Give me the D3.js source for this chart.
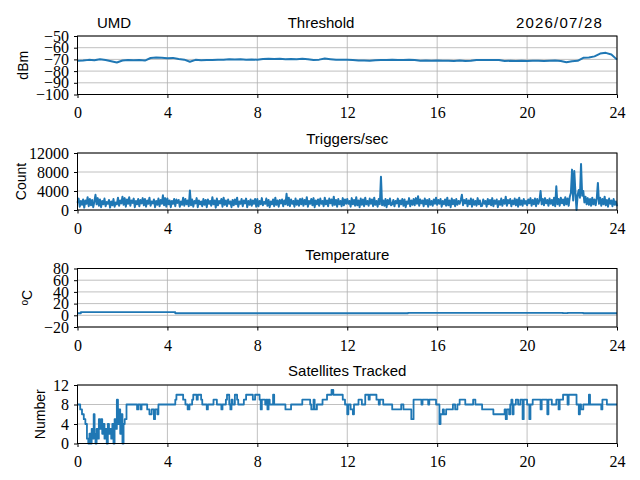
<!DOCTYPE html>
<html>
<head>
<meta charset="utf-8">
<script src="https://cdn.jsdelivr.net/npm/d3@7"></script>
<style>
  body { margin: 0; background: #fff; }
  .tick text { font-family: "Liberation Serif", serif; font-size: 16px; fill: #000; }
</style>
</head>
<body>
<div id="chart"></div>
<script>
let width = 640;
let height = 480;
let xLeft = 77.5;
let xRight = 617;

const hourTicks = [0, 4, 8, 12, 16, 20, 24];

// Threshold (dBm), one reading every 15 minutes
const thresholdStep = 0.25;
const threshold = [
  -71.2, -71.0, -70.4, -70.8,
  -69.8, -70.6, -71.5, -72.6,
  -71.0, -70.5, -70.8, -70.6,
  -71.0, -68.8, -68.3, -68.6,
  -69.0, -68.7, -69.6, -70.2,
  -72.0, -70.4, -70.8, -70.6,
  -70.5, -70.2, -70.4, -69.9,
  -70.1, -69.8, -70.3, -70.0,
  -70.3, -69.6, -69.4, -69.7,
  -69.5, -69.9, -69.6, -69.8,
  -69.4, -69.8, -70.5, -70.2,
  -69.3, -69.8, -70.2, -70.4,
  -70.3, -70.6, -70.9, -71.0,
  -71.1, -70.7, -70.5, -70.6,
  -70.4, -70.6, -70.5, -70.3,
  -70.6, -71.1, -71.0, -71.2,
  -71.0, -71.2, -71.1, -71.4,
  -71.0, -71.3, -71.2, -70.6,
  -70.6, -70.5, -70.6, -70.5,
  -71.4, -71.2, -71.3, -71.2,
  -71.3, -71.2, -71.1, -71.3,
  -71.2, -71.0, -71.4, -72.5,
  -71.5, -71.2, -68.6, -68.4,
  -67.4, -65.0, -64.4, -65.8,
  -70.2
];
const thresholdTicks = [-100, -90, -80, -70, -60, -50];

// Triggers per second, one reading every 3 minutes
const triggerStep = 0.05;
const triggers = [
  1500, 2400, 700, 1900, 1100, 2200, 500, 2000, 1300, 2700, 800, 2300, 1000, 2100, 600, 1800, 3200, 1200, 2500, 900,
  2200, 600, 1900, 1200, 2400, 800, 1700, 1300, 2100, 500, 1800, 1000, 2300, 700, 1600, 1200, 2600, 900, 2000, 1400,
  2800, 1100, 2500, 700, 2200, 1300, 2700, 900, 2000, 1500, 2400, 600, 1900, 1200, 2300, 800, 2100, 1400, 2500, 1000,
  2300, 700, 2000, 1300, 2600, 900, 1800, 1400, 2200, 600, 1900, 1100, 2400, 800, 2100, 1300, 3100, 1000, 2500, 700,
  2400, 1200, 2000, 600, 1900, 1300, 2300, 800, 2200, 1500, 2100, 700, 1800, 1100, 2600, 900, 2300, 1200, 2000, 800,
  4100, 1000, 2200, 700, 1900, 1400, 2500, 600, 2000, 1200, 1800, 800, 2300, 1100, 2100, 600, 2200, 1300, 1900, 900,
  2700, 1200, 2000, 500, 2400, 1000, 1900, 1400, 2300, 700, 2600, 1100, 2000, 800, 2200, 1300, 1800, 600, 2100, 1000,
  2200, 1200, 2600, 700, 1800, 1300, 2300, 800, 2000, 1400, 2400, 600, 1900, 1100, 2200, 900, 2000, 1300, 2300, 700,
  2300, 800, 1900, 1200, 2500, 1000, 1700, 1300, 2400, 900, 2100, 600, 1800, 1200, 2200, 800, 2600, 1100, 2000, 700,
  2100, 1400, 2200, 800, 2000, 1200, 3400, 1000, 2600, 800, 2200, 1300, 1900, 700, 2400, 1100, 2000, 900, 2300, 1200,
  2400, 900, 2100, 1200, 2700, 700, 1900, 1300, 2300, 1000, 2500, 600, 2000, 1200, 2200, 900, 2400, 1300, 1900, 800,
  2600, 1200, 2000, 800, 2400, 1400, 2200, 900, 2800, 1100, 2100, 700, 2300, 1200, 1900, 800, 2500, 1000, 2200, 1300,
  2300, 1300, 1900, 700, 2500, 1200, 2100, 900, 2700, 1000, 2000, 600, 2400, 1100, 2200, 800, 2600, 1200, 1900, 900,
  2400, 1300, 2200, 800, 2600, 1100, 1900, 700, 2300, 1200, 7000, 1000, 2000, 900, 2300, 600, 2100, 1200, 2400, 1000,
  1200, 2100, 800, 1900, 1400, 2400, 700, 2000, 1200, 2300, 900, 2200, 600, 1800, 1300, 2500, 800, 2000, 1100, 2300,
  1000, 2500, 1300, 2900, 900, 2200, 1400, 2000, 800, 2400, 1200, 2100, 700, 2300, 1100, 1900, 900, 2200, 1300, 2600,
  1100, 2100, 1300, 2300, 700, 1900, 1200, 2200, 900, 2600, 1000, 2000, 600, 2400, 1200, 2100, 800, 2300, 1100, 1900,
  1300, 2100, 3200, 1000, 2100, 1400, 2300, 800, 2000, 1200, 2400, 700, 2200, 1100, 1900, 900, 2500, 1200, 2000, 800,
  900, 2200, 1300, 1900, 700, 2300, 1200, 2100, 1000, 2500, 800, 2000, 1300, 2200, 600, 1900, 1100, 2400, 900, 2100,
  1300, 2800, 900, 2100, 1400, 2300, 800, 2000, 1200, 2400, 1000, 2200, 700, 2600, 1100, 2000, 900, 2300, 1300, 1900,
  1000, 2200, 1400, 2500, 900, 2100, 1200, 2400, 800, 2300, 1300, 2000, 4000, 1200, 2300, 1000, 2500, 1400, 2100, 900,
  2400, 1300, 2100, 1000, 2600, 800, 5000, 1200, 2300, 900, 2600, 1400, 2200, 1000, 2700, 1200, 2400, 900, 2800, 3600,
  8500, 2000, 8200, 3600, 0, 3200, 4200, 2600, 9700, 3000, 4000, 1600, 2800, 1200, 2500, 1100, 2300, 900, 2600, 1200,
  2200, 1000, 2400, 5700, 1300, 2600, 900, 2300, 1200, 2800, 1000, 2100, 700, 2400, 1300, 2000, 800, 2300, 1100, 1800,
  800
];
const triggerTicks = [0, 4000, 8000, 12000];

// Temperature (degrees C), held between readings
const temperatureHours = [0, 0.15, 4.35, 14.7, 21.6, 21.8, 22.5, 24];
const temperature = [3.5, 5.5, 3.5, 4.2, 3.6, 4.2, 3.5, 3.5];
const temperatureTicks = [-20, 0, 20, 40, 60, 80];

// Satellites tracked: [hour, count], held between readings
const satellites = [
  [0, 8], [0.12, 7], [0.2, 6], [0.28, 5], [0.35, 4], [0.42, 1], [0.48, 0], [0.53, 2],
  [0.58, 0], [0.63, 3], [0.68, 1], [0.72, 6], [0.76, 2], [0.8, 0], [0.85, 3], [0.9, 1],
  [0.95, 5], [1.0, 3], [1.05, 5], [1.1, 2], [1.15, 4], [1.2, 1], [1.25, 3], [1.3, 0],
  [1.35, 4], [1.4, 2], [1.45, 3], [1.5, 1], [1.55, 4], [1.6, 0], [1.65, 5], [1.7, 3],
  [1.75, 9], [1.8, 4], [1.85, 7], [1.9, 2], [1.95, 6], [2.0, 0], [2.05, 4], [2.1, 5],
  [2.18, 8], [2.65, 7], [2.7, 8], [2.8, 7], [2.85, 8], [3.1, 7], [3.2, 6], [3.3, 7],
  [3.4, 5], [3.45, 7], [3.55, 6], [3.6, 8], [4.35, 9], [4.4, 10], [4.7, 9], [4.8, 8],
  [4.9, 7], [4.98, 8], [5.1, 9], [5.15, 10], [5.3, 9], [5.35, 10], [5.5, 9], [5.55, 8],
  [5.75, 7], [5.8, 8], [6.05, 9], [6.2, 8], [6.4, 7], [6.45, 8], [6.6, 9], [6.65, 10],
  [6.75, 8], [6.8, 7], [6.85, 9], [6.9, 8], [7.0, 10], [7.1, 9], [7.15, 8], [7.4, 9],
  [7.5, 10], [7.8, 9], [7.9, 10], [8.1, 9], [8.15, 7], [8.2, 9], [8.35, 8], [8.4, 9],
  [8.45, 7], [8.5, 9], [8.55, 8], [8.7, 10], [8.75, 8], [9.25, 7], [9.5, 8], [10.0, 9],
  [10.35, 8], [10.4, 7], [10.5, 9], [10.55, 7], [10.65, 8], [10.9, 9], [11.1, 10], [11.3, 11],
  [11.38, 10], [11.8, 9], [11.9, 8], [12.0, 6], [12.05, 8], [12.15, 7], [12.25, 6], [12.3, 8],
  [12.5, 9], [12.65, 8], [12.8, 10], [12.95, 9], [13.0, 10], [13.3, 9], [13.4, 8], [13.45, 9],
  [13.6, 8], [14.0, 7], [14.4, 8], [14.5, 7], [14.85, 5], [14.95, 9], [15.3, 8], [15.35, 9],
  [15.6, 8], [15.65, 9], [15.95, 8], [16.1, 4], [16.15, 6], [16.25, 7], [16.3, 6], [16.4, 7],
  [16.7, 8], [16.8, 7], [16.9, 8], [17.0, 9], [17.25, 8], [17.6, 9], [17.7, 8], [18.0, 7],
  [18.5, 6], [19.0, 7], [19.05, 5], [19.1, 7], [19.2, 6], [19.25, 8], [19.3, 9], [19.35, 6],
  [19.4, 8], [19.5, 9], [19.6, 8], [19.7, 9], [19.8, 5], [19.85, 9], [20.0, 8], [20.1, 5],
  [20.15, 8], [20.25, 9], [20.6, 7], [20.65, 9], [20.9, 6], [20.95, 9], [21.1, 8], [21.3, 9],
  [21.4, 7], [21.45, 9], [21.6, 10], [21.8, 8], [21.85, 10], [22.2, 8], [22.3, 6], [22.35, 8],
  [22.4, 7], [22.5, 8], [22.75, 10], [22.8, 8], [23.3, 7], [23.35, 9], [23.55, 8], [24, 8]
];
const satelliteTicks = [0, 4, 8, 12];

const svg = d3
  .select("#chart")
  .append("svg")
  .attr("width", width)
  .attr("height", height);

const xScale = d3.scaleLinear().domain([0, 24]).range([xLeft, xRight]);

function drawPanel(opts) {
  const yScale = d3
    .scaleLinear()
    .domain(opts.domain)
    .range([opts.bottom, opts.top]);

  const g = svg.append("g");

  // grid
  g.selectAll(".vgrid")
    .data(hourTicks)
    .enter()
    .append("line")
    .attr("x1", (d) => xScale(d))
    .attr("x2", (d) => xScale(d))
    .attr("y1", opts.top)
    .attr("y2", opts.bottom)
    .attr("stroke", "#b0b0b0")
    .attr("stroke-width", 0.8);

  g.selectAll(".hgrid")
    .data(opts.ticks)
    .enter()
    .append("line")
    .attr("x1", xLeft)
    .attr("x2", xRight)
    .attr("y1", (d) => yScale(d))
    .attr("y2", (d) => yScale(d))
    .attr("stroke", "#b0b0b0")
    .attr("stroke-width", 0.8);

  const line = d3
    .line()
    .x((d) => xScale(d[0]))
    .y((d) => yScale(d[1]));
  if (opts.step) line.curve(d3.curveStepAfter);

  g.append("path")
    .datum(opts.data)
    .attr("fill", "none")
    .attr("stroke", "#1f77b4")
    .attr("stroke-width", opts.lineWidth || 1.5)
    .attr("stroke-linejoin", "round")
    .attr("d", line);

  g.append("rect")
    .attr("x", xLeft)
    .attr("y", opts.top)
    .attr("width", xRight - xLeft)
    .attr("height", opts.bottom - opts.top)
    .attr("fill", "none")
    .attr("stroke", "#000")
    .attr("stroke-width", 1);

  const xAxis = d3.axisBottom(xScale).tickValues(hourTicks).tickSize(3.5).tickPadding(5);
  const xg = g
    .append("g")
    .attr("transform", `translate(0,${opts.bottom})`)
    .call(xAxis);
  xg.select(".domain").remove();
  xg.selectAll(".tick text").attr("dy", "0.95em");

  const yAxis = d3
    .axisLeft(yScale)
    .tickValues(opts.ticks)
    .tickSize(3.5)
    .tickPadding(5)
    .tickFormat(d3.format("d"));
  const yg = g
    .append("g")
    .attr("transform", `translate(${xLeft},0)`)
    .call(yAxis);
  yg.select(".domain").remove();

  if (opts.title) {
    g.append("text")
      .attr("x", (xLeft + xRight) / 2)
      .attr("y", opts.top - 9)
      .attr("text-anchor", "middle")
      .attr("font-family", "Liberation Sans, sans-serif")
      .attr("font-size", 15)
      .text(opts.title);
  }

  const label = g
    .append("text")
    .attr("text-anchor", "middle")
    .attr("transform", `translate(${opts.labelX},${(opts.top + opts.bottom) / 2}) rotate(-90)`)
    .attr("dy", "0.35em")
    .attr("font-family", "Liberation Sans, sans-serif")
    .attr("font-size", 14);
  if (opts.degree) {
    label.append("tspan").attr("font-size", 10).attr("dy", "-0.3em").text("o");
    label.append("tspan").attr("dy", "0.3em").text("C");
  } else {
    label.text(opts.label);
  }
}

drawPanel({
  top: 36,
  bottom: 94.5,
  domain: [-100, -50],
  ticks: thresholdTicks,
  data: threshold.map((v, i) => [i * thresholdStep, v]),
  label: "dBm",
  labelX: 23,
  lineWidth: 2
});

drawPanel({
  top: 153,
  bottom: 210,
  domain: [0, 12000],
  ticks: triggerTicks,
  data: triggers.map((v, i) => [i * triggerStep, v]),
  title: "Triggers/sec",
  label: "Count",
  labelX: 21,
  lineWidth: 2
});

drawPanel({
  top: 268.5,
  bottom: 327,
  domain: [-20, 80],
  ticks: temperatureTicks,
  data: temperatureHours.map((h, i) => [h, temperature[i]]),
  title: "Temperature",
  labelX: 31,
  degree: true,
  step: true,
  lineWidth: 1.8
});

drawPanel({
  top: 385,
  bottom: 443.5,
  domain: [0, 12],
  ticks: satelliteTicks,
  data: satellites,
  title: "Satellites Tracked",
  label: "Number",
  labelX: 40,
  step: true,
  lineWidth: 1.8
});

// the top title line: station, panel name and date
const header = [
  { text: "UMD", x: 97, anchor: "start", spacing: 0 },
  { text: "Threshold", x: 321, anchor: "middle", spacing: 0 },
  { text: "2026/07/28", x: 603, anchor: "end", spacing: 1.2 }
];

svg.selectAll(".header")
  .data(header)
  .enter()
  .append("text")
  .attr("class", "header")
  .attr("x", (d) => d.x)
  .attr("y", 27.5)
  .attr("text-anchor", (d) => d.anchor)
  .attr("font-family", "Liberation Sans, sans-serif")
  .attr("font-size", 15)
  .attr("letter-spacing", (d) => d.spacing)
  .text((d) => d.text);
</script>
</body>
</html>
